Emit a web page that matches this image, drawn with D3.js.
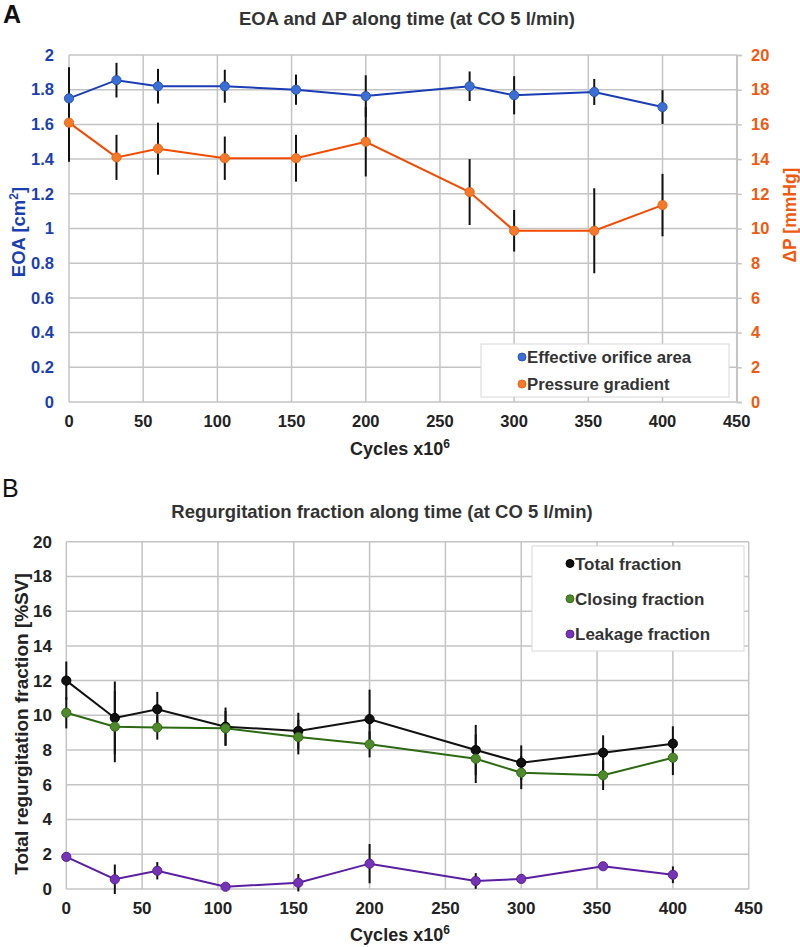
<!DOCTYPE html>
<html><head><meta charset="utf-8">
<script src="https://cdn.jsdelivr.net/npm/d3@7"></script>
<style>body{margin:0;background:#fff}svg{display:block}text{font-family:Arial,"Liberation Sans",sans-serif}</style>
</head><body>
<svg id="c" width="800" height="947"></svg>
<script>
// ---- Data ----
const cycles = [0, 32, 60, 105, 153, 200, 270, 300, 354, 400];
const eoa = [1.75, 1.855, 1.82, 1.82, 1.80, 1.763, 1.82, 1.768, 1.787, 1.70];
const eoaErr = [0.18, 0.10, 0.10, 0.095, 0.087, 0.12, 0.085, 0.11, 0.075, 0.097];
const dp = [16.1, 14.1, 14.6, 14.05, 14.05, 15.0, 12.1, 9.87, 9.87, 11.35];
const dpErr = [2.25, 1.3, 1.5, 1.25, 1.35, 2.0, 1.9, 1.2, 2.45, 1.8];
const total = [12.0, 9.85, 10.35, 9.35, 9.1, 9.78, 8.0, 7.27, 7.85, 8.37];
const totalErr = [1.1, 2.1, 1.0, 1.1, 1.05, 1.7, 1.45, 1.0, 1.0, 1.0];
const closing = [10.15, 9.35, 9.3, 9.25, 8.75, 8.33, 7.5, 6.7, 6.55, 7.56];
const closingErr = [0.9, 2.05, 0.7, 1.0, 1.0, 0.75, 1.4, 0.95, 0.85, 1.0];
const leakage = [1.85, 0.56, 1.05, 0.13, 0.36, 1.46, 0.46, 0.58, 1.31, 0.82];
const leakageErr = [0, 0.85, 0.5, 0, 0.5, 1.13, 0.45, 0, 0, 0.48];
const xTicks = [0, 50, 100, 150, 200, 250, 300, 350, 400, 450];
const eoaTicks = [0, 0.2, 0.4, 0.6, 0.8, 1, 1.2, 1.4, 1.6, 1.8, 2];
const dpTicks = [0, 2, 4, 6, 8, 10, 12, 14, 16, 18, 20];
const rfTicks = [0, 2, 4, 6, 8, 10, 12, 14, 16, 18, 20];

const svg = d3.select("#c");
const GRID = "#c4c4c4", DARK = "#222";
const BLUE_T = "#1c3fb0", ORANGE_T = "#f05a10";

function grid(g, x, y, xt, yt) {
  g.selectAll(".vx").data(xt).join("line")
    .attr("x1", d => x(d)).attr("x2", d => x(d))
    .attr("y1", y.range()[0]).attr("y2", y.range()[1])
    .attr("stroke", GRID).attr("stroke-width", 1.5);
  g.selectAll(".hy").data(yt).join("line").attr("class","hy")
    .attr("y1", d => y(d)).attr("y2", d => y(d))
    .attr("x1", x.range()[0]).attr("x2", x.range()[1])
    .attr("stroke", GRID).attr("stroke-width", 1.5);
}
function series(g, x, y, vals, errs, lineCol) {
  const pts = cycles.map((c, i) => ({c, v: vals[i], e: errs[i]}));
  g.append("path").datum(pts)
    .attr("d", d3.line().x(d => x(d.c)).y(d => y(d.v)))
    .attr("fill", "none").attr("stroke", lineCol).attr("stroke-width", 2);
  g.selectAll(null).data(pts.filter(d => d.e > 0)).join("line")
    .attr("x1", d => x(d.c)).attr("x2", d => x(d.c))
    .attr("y1", d => y(d.v - d.e)).attr("y2", d => y(d.v + d.e))
    .attr("stroke", "#111").attr("stroke-width", 2);
  return pts;
}
function markers(g, x, y, pts, fill, stroke) {
  g.selectAll(null).data(pts).join("circle")
    .attr("cx", d => x(d.c)).attr("cy", d => y(d.v)).attr("r", 4.6)
    .attr("fill", fill).attr("stroke", stroke).attr("stroke-width", 1);
}

// ================= Panel A =================
const xA = d3.scaleLinear().domain([0, 450]).range([69, 736.7]);
const yA = d3.scaleLinear().domain([0, 2]).range([402, 55]);
const yA2 = d3.scaleLinear().domain([0, 20]).range([402, 55]);
const gA = svg.append("g");
grid(gA, xA, yA, xTicks, eoaTicks);
gA.append("g").attr("transform", `translate(${xA(450)},0)`)
  .call(d3.axisRight(yA2).tickValues(dpTicks).tickSize(5).tickFormat(""))
  .call(s => { s.select(".domain").attr("stroke", GRID).attr("stroke-width", 1.5); s.selectAll("line").attr("stroke", GRID).attr("stroke-width", 1.5); });
gA.selectAll(null).data(eoaTicks).join("text")
  .attr("x", 54).attr("y", d => yA(d)).attr("dy", "0.35em").attr("text-anchor", "end")
  .attr("font-size", 16.5).attr("font-weight", "bold").attr("fill", BLUE_T).text(d => d);
gA.selectAll(null).data(dpTicks).join("text")
  .attr("x", 751).attr("y", d => yA2(d)).attr("dy", "0.35em").attr("text-anchor", "start")
  .attr("font-size", 16.5).attr("font-weight", "bold").attr("fill", ORANGE_T).text(d => d);
gA.selectAll(null).data(xTicks).join("text")
  .attr("x", d => xA(d)).attr("y", 427).attr("text-anchor", "middle")
  .attr("font-size", 16.5).attr("font-weight", "bold").attr("fill", DARK).text(d => d);

const pE = series(gA, xA, yA, eoa, eoaErr, "#1a3cb4");
const pD = series(gA, xA, yA2, dp, dpErr, "#f24a00");
markers(gA, xA, yA, pE, "#3b6fd3", "#2a55b8");
markers(gA, xA, yA2, pD, "#f47a2a", "#e8661a");

svg.append("text").attr("x", 3).attr("y", 23).attr("font-size", 25).attr("font-weight", "bold").attr("fill", "#111").text("A");
svg.append("text").attr("x", 407).attr("y", 25).attr("text-anchor", "middle").attr("font-size", 18.5).attr("font-weight", "bold").attr("fill", "#333")
  .text("EOA and ΔP along time (at CO 5 l/min)");
const xtA = svg.append("text").attr("x", 400).attr("y", 455).attr("text-anchor", "middle").attr("font-size", 18).attr("font-weight", "bold").attr("fill", DARK);
xtA.append("tspan").text("Cycles x10");
xtA.append("tspan").attr("dy", -7).attr("font-size", 12).text("6");
const ylA = svg.append("text").attr("transform", "translate(25,232) rotate(-90)").attr("text-anchor", "middle")
  .attr("font-size", 18.5).attr("font-weight", "bold").attr("fill", BLUE_T);
ylA.append("tspan").text("EOA [cm");
ylA.append("tspan").attr("dy", -7).attr("font-size", 12).text("2");
ylA.append("tspan").attr("dy", 7).text("]");
svg.append("text").attr("transform", "translate(796,215) rotate(-90)").attr("text-anchor", "middle")
  .attr("font-size", 17.5).attr("font-weight", "bold").attr("fill", ORANGE_T).text("ΔP [mmHg]");

const lgA = svg.append("g");
lgA.append("rect").attr("x", 481).attr("y", 344).attr("width", 248).attr("height", 53)
  .attr("fill", "#fff").attr("stroke", "#d8d8d8").attr("stroke-width", 1);
const legA = [{t: "Effective orifice area", f: "#3b6fd3", s: "#2a55b8"}, {t: "Pressure gradient", f: "#f47a2a", s: "#e8661a"}];
legA.forEach((d, i) => {
  const cy = 357 + i * 27;
  lgA.append("circle").attr("cx", 522).attr("cy", cy).attr("r", 4).attr("fill", d.f).attr("stroke", d.s);
  lgA.append("text").attr("x", 527).attr("y", cy).attr("dy", "0.36em").attr("font-size", 16.8).attr("font-weight", "bold").attr("fill", "#333").text(d.t);
});

// ================= Panel B =================
const xB = d3.scaleLinear().domain([0, 450]).range([66.3, 748.7]);
const yB = d3.scaleLinear().domain([0, 20]).range([889, 541.7]);
const gB = svg.append("g");
grid(gB, xB, yB, xTicks, rfTicks);
gB.selectAll(null).data(rfTicks).join("text")
  .attr("x", 52).attr("y", d => yB(d)).attr("dy", "0.35em").attr("text-anchor", "end")
  .attr("font-size", 17).attr("font-weight", "bold").attr("fill", DARK).text(d => d);
gB.selectAll(null).data(xTicks).join("text")
  .attr("x", d => xB(d)).attr("y", 914).attr("text-anchor", "middle")
  .attr("font-size", 17).attr("font-weight", "bold").attr("fill", DARK).text(d => d);

const pT = series(gB, xB, yB, total, totalErr, "#111");
const pC = series(gB, xB, yB, closing, closingErr, "#2c6a12");
const pL = series(gB, xB, yB, leakage, leakageErr, "#5a1fa0");
markers(gB, xB, yB, pT, "#111", "#000");
markers(gB, xB, yB, pC, "#4e8a2c", "#336e18");
markers(gB, xB, yB, pL, "#7434b4", "#5a1fa0");

svg.append("text").attr("x", 2).attr("y", 497).attr("font-size", 25).attr("fill", "#111").text("B");
svg.append("text").attr("x", 382).attr("y", 518).attr("text-anchor", "middle").attr("font-size", 18.5).attr("font-weight", "bold").attr("fill", "#333")
  .text("Regurgitation fraction along time (at CO 5 l/min)");
const xtB = svg.append("text").attr("x", 400).attr("y", 941).attr("text-anchor", "middle").attr("font-size", 18).attr("font-weight", "bold").attr("fill", DARK);
xtB.append("tspan").text("Cycles x10");
xtB.append("tspan").attr("dy", -7).attr("font-size", 12).text("6");
svg.append("text").attr("transform", "translate(28,724) rotate(-90)").attr("text-anchor", "middle")
  .attr("font-size", 19).attr("font-weight", "bold").attr("fill", DARK).text("Total regurgitation fraction [%SV]");

const lgB = svg.append("g");
lgB.append("rect").attr("x", 532).attr("y", 546).attr("width", 212).attr("height", 105)
  .attr("fill", "#fff").attr("stroke", "#d8d8d8").attr("stroke-width", 1);
const legB = [{t: "Total fraction", f: "#111", s: "#000"}, {t: "Closing fraction", f: "#4e8a2c", s: "#336e18"}, {t: "Leakage fraction", f: "#7434b4", s: "#5a1fa0"}];
legB.forEach((d, i) => {
  const cy = 563.5 + i * 35.3;
  lgB.append("circle").attr("cx", 570).attr("cy", cy).attr("r", 4).attr("fill", d.f).attr("stroke", d.s);
  lgB.append("text").attr("x", 575).attr("y", cy).attr("dy", "0.36em").attr("font-size", 17).attr("font-weight", "bold").attr("fill", "#333").text(d.t);
});
</script>
</body></html>
